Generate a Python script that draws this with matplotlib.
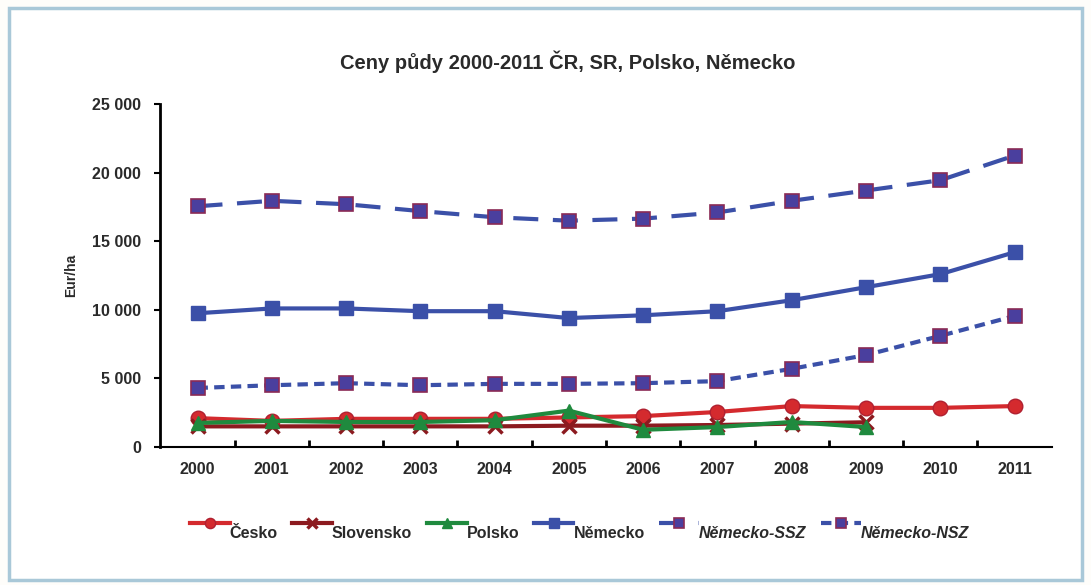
import matplotlib.pyplot as plt
from matplotlib.patches import Rectangle
from matplotlib.ticker import FuncFormatter
from matplotlib.transforms import ScaledTranslation

plt.rcParams['font.family'] = ['Liberation Sans', 'DejaVu Sans']

years = [str(y) for y in range(2000, 2012)]

cesko = [2100, 1900, 2050, 2050, 2050, 2150, 2250, 2550, 2980, 2850, 2850, 2980]
slovensko = [1500, 1500, 1500, 1500, 1500, 1550, 1550, 1600, 1700, 1800]
polsko = [1750, 1900, 1820, 1820, 1950, 2650, 1250, 1450, 1820, 1450]
nemecko = [9750, 10100, 10100, 9900, 9900, 9400, 9600, 9900, 10700, 11650, 12600, 14200]
nemecko_ssz = [17550, 17950, 17700, 17200, 16750, 16500, 16650, 17100, 17950, 18700, 19450, 21250]
nemecko_nsz = [4300, 4500, 4650, 4500, 4600, 4600, 4650, 4800, 5700, 6700, 8100, 9550]

fig = plt.figure(figsize=(10.91, 5.85), dpi=100)
fig.patch.set_facecolor('#fefdfa')
# light blue frame around the whole chart
fig.patches.append(Rectangle((0.008, 0.008), 0.984, 0.978, transform=fig.transFigure,
                             fill=True, facecolor='white', edgecolor='#a9c8d8', lw=2.5,
                             zorder=-10))

ax = fig.add_axes([0.147, 0.236, 0.817, 0.586])
ax.set_facecolor('none')

x = list(range(len(years)))
lw = 3
ax.plot(x, cesko, color='#d42a2e', lw=lw, marker='o', ms=10.5, mfc='#d42a2e', mec='#b02030',
        label='Česko')
ax.plot(x[:len(slovensko)], slovensko, color='#8c1a1f', lw=lw, marker='x', ms=10, mew=2.5,
        label='Slovensko')
ax.plot(x[:len(polsko)], polsko, color='#1f8a3e', lw=lw, marker='^', ms=10,
        mfc='#1f8a3e', mec='#1f8a3e', label='Polsko')
ax.plot(x, nemecko, color='#3b50a8', lw=lw, marker='s', ms=9.5, mfc='#3b50a8', mec='#3b50a8',
        label='Německo')
ax.plot(x, nemecko_ssz, color='#3b50a8', lw=lw, ls=(0, (6, 3.5)), marker='s', ms=10,
        mfc='#4a3f9e', mec='#8a2a55', mew=1.2, label='Německo-SSZ')
ax.plot(x, nemecko_nsz, color='#3b50a8', lw=lw, ls=(0, (2.5, 1.5)), marker='s', ms=10,
        mfc='#4a3f9e', mec='#8a2a55', mew=1.2, label='Německo-NSZ')

ax.set_xlim(-0.5, len(years) - 0.5)
ax.set_ylim(0, 25000)
ax.set_yticks(range(0, 25001, 5000))
ax.yaxis.set_major_formatter(FuncFormatter(lambda v, p: f'{int(v):,}'.replace(',', ' ')))
ax.set_xticks(x)
ax.set_xticklabels(years)
ax.set_xticks([i + 0.5 for i in x[:-1]], minor=True)
ax.tick_params(axis='x', which='major', length=0, pad=11)
ax.tick_params(axis='x', which='minor', direction='in', length=5, width=2)
ax.tick_params(axis='y', direction='out', length=4, width=1.5, pad=10)
for lab in ax.get_xticklabels() + ax.get_yticklabels():
    lab.set_fontweight('bold')
    lab.set_fontsize(11.5)
    lab.set_color('#2a2a2a')

for side in ['top', 'right']:
    ax.spines[side].set_visible(False)
ax.spines['left'].set_linewidth(2)
ax.spines['bottom'].set_linewidth(1.5)

ax.set_ylabel('Eur/ha', fontsize=10, fontweight='bold', labelpad=10, color='#2a2a2a')
ax.set_title('Ceny půdy 2000-2011 ČR, SR, Polsko, Německo', fontsize=14.5,
             fontweight='bold', pad=25, color='#2a2a2a', x=0.457)

leg = ax.legend(loc='center', bbox_to_anchor=(0.47, -0.225), ncol=6, frameon=False,
                handlelength=2.5, columnspacing=0.9, handletextpad=0.0,
                prop={'weight': 'bold', 'size': 11.5}, markerscale=0.7)
# legend labels sit a little below their line samples
drop = ScaledTranslation(0, -7 / 72, fig.dpi_scale_trans)
for t in leg.get_texts():
    t.set_color('#2a2a2a')
    t.set_transform(t.get_transform() + drop)
    if 'SZ' in t.get_text():
        t.set_style('italic')

fig.savefig('out.png', dpi=100, facecolor=fig.get_facecolor())
